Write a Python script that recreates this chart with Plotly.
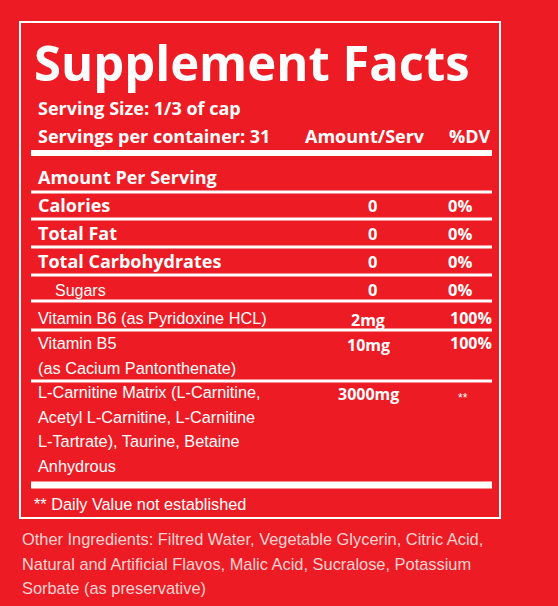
import plotly.graph_objects as go

RED = "#ED1C24"
W = "white"

title = "Supplement Facts"
serving_lines = ["Serving Size: 1/3 of cap", "Servings per container: 31"]
col_headers = ["Amount/Serv", "%DV"]
section = "Amount Per Serving"
bold_rows = ["Calories", "Total Fat", "Total Carbohydrates"]
bold_amounts = ["0", "0", "0"]
bold_dv = ["0%", "0%", "0%"]
sub_rows = ["Sugars"]
sub_amounts = ["0"]
sub_dv = ["0%"]
vit_rows = [["Vitamin B6 (as Pyridoxine HCL)"], ["Vitamin B5", "(as Cacium Pantonthenate)"],
            ["L-Carnitine Matrix (L-Carnitine,", "Acetyl L-Carnitine, L-Carnitine",
             "L-Tartrate), Taurine, Betaine", "Anhydrous"]]
vit_amounts = ["2mg", "10mg", "3000mg"]
vit_dv = ["100%", "100%", "**"]
footnote = "** Daily Value not established"
other = ["Other Ingredients: Filtred Water, Vegetable Glycerin, Citric Acid,",
         "Natural and Artificial Flavos, Malic Acid, Sucralose, Potassium",
         "Sorbate (as preservative)"]

BF = "Open Sans"
RF = "Liberation Sans"
fig = go.Figure()
ann = []
shapes = []

def txt(x, y, s, size, bold=False, anchor="left", font=None, color=W):
    ann.append(dict(x=x, y=y, xref="x", yref="y", text=f"<b>{s}</b>" if bold else s,
                    showarrow=False, xanchor=anchor, yanchor="middle",
                    font=dict(family=font or (BF if bold else RF), size=size, color=color)))

def hline(y, w):
    shapes.append(dict(type="line", xref="x", yref="y", x0=31, x1=492, y0=y, y1=y,
                       line=dict(color=W, width=w)))

shapes.append(dict(type="rect", xref="x", yref="y", x0=20, x1=500, y0=22, y1=518,
                   line=dict(color=W, width=2)))
txt(32, 62, title, 49, True)
txt(36, 108, serving_lines[0], 18, True)
txt(36, 136, serving_lines[1], 18, True)
txt(365, 136, col_headers[0], 18, True, "center")
txt(493, 136, col_headers[1], 18, True, "right")
hline(153, 6)
txt(36, 177, section, 18, True)
hline(192, 3)
y = 205
for n, a, d in zip(bold_rows, bold_amounts, bold_dv):
    txt(36, y, n, 18, True)
    txt(372, y, a, 16.5, True, "center")
    txt(460, y, d, 16.5, True, "center")
    hline(y + 14, 3)
    y += 28
for n, a, d in zip(sub_rows, sub_amounts, sub_dv):
    txt(53, y + 1, n, 16)
    txt(372, y, a, 16.5, True, "center")
    txt(460, y, d, 16.5, True, "center")
    hline(301, 3)
tops = [318, 343, 392]
lines_after = [330, 381]
for i, (ls, a, d) in enumerate(zip(vit_rows, vit_amounts, vit_dv)):
    for k, s in enumerate(ls):
        txt(36, tops[i] + 24.5 * k, s, 16.3)
    txt(368, tops[i] + 2, a, 16, True, "center")
    if d == "**":
        txt(463, tops[i] + 6, d, 12, False, "center")
    else:
        txt(494, tops[i], d, 16, True, "right")
    if i < len(lines_after):
        hline(lines_after[i], 3)
hline(485, 7)
txt(32, 504, footnote, 16.3)
for k, s in enumerate(other):
    txt(20, 539 + 24.5 * k, s, 16.4, color="#FBD3D3")

fig.update_layout(width=558, height=606, margin=dict(l=0, r=0, t=0, b=0),
                  paper_bgcolor=RED, plot_bgcolor=RED, annotations=ann, shapes=shapes,
                  xaxis=dict(range=[0, 558], visible=False, fixedrange=True),
                  yaxis=dict(range=[606, 0], visible=False, fixedrange=True),
                  showlegend=False)
fig.write_html("out.html", config={"displayModeBar": False},
               post_script="document.body.style.margin='0';document.body.style.background='#ED1C24';")
